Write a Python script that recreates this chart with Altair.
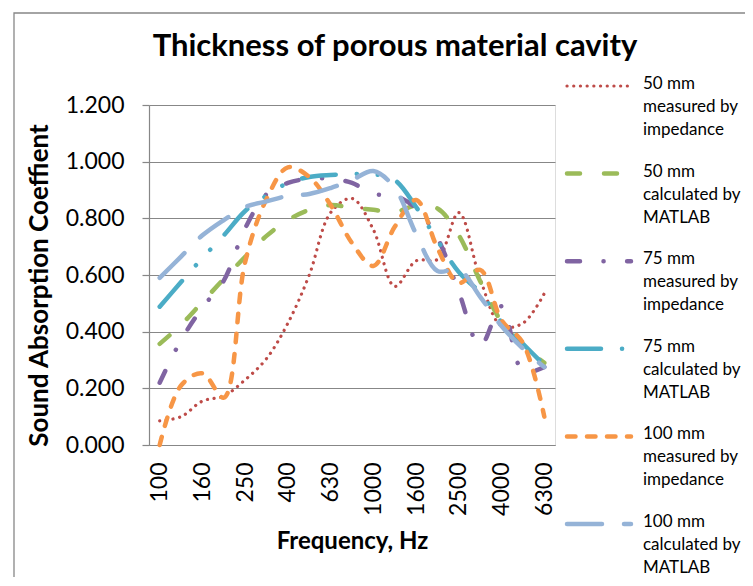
import altair as alt
import pandas as pd

freqs = ["100", "125", "160", "200", "250", "315", "400", "500", "630", "800",
         "1000", "1250", "1600", "2000", "2500", "3150", "4000", "5000", "6300"]
tick_labels = ["100", "160", "250", "400", "630", "1000", "1600", "2500", "4000", "6300"]
y_ticks = [0.0, 0.2, 0.4, 0.6, 0.8, 1.0, 1.2]
chart_title = "Thickness of porous material cavity"

series_names = [
    "50 mm measured by impedance",
    "50 mm calculated by MATLAB",
    "75 mm measured by impedance",
    "75 mm calculated by MATLAB",
    "100 mm measured by impedance",
    "100 mm calculated by MATLAB",
]
legend_labels = [
    "50 mm|measured by|impedance",
    "50 mm|calculated by|MATLAB",
    "75 mm|measured by|impedance",
    "75 mm|calculated by|MATLAB",
    "100 mm|measured by|impedance",
    "100 mm|calculated by|MATLAB",
]

mm50_measured = [0.085, 0.10, 0.155, 0.173, 0.23, 0.305, 0.43, 0.60, 0.82, 0.87,
                 0.76, 0.56, 0.65, 0.655, 0.82, 0.585, 0.42, 0.43, 0.535]
mm50_matlab = [0.357, 0.424, 0.505, 0.586, 0.664, 0.738, 0.794, 0.83, 0.847, 0.837,
               0.83, 0.822, 0.845, 0.835, 0.74, 0.578, 0.434, 0.35, 0.29]
mm75_measured = [0.22, 0.37, 0.485, 0.58, 0.765, 0.885, 0.925, 0.94, 0.94, 0.925,
                 0.886, 0.88, 0.835, 0.73, 0.54, 0.35, 0.49, 0.26, 0.275]
mm75_matlab = [0.488, 0.575, 0.66, 0.74, 0.826, 0.88, 0.925, 0.946, 0.953, 0.956,
               0.956, 0.935, 0.84, 0.722, 0.61, 0.537, 0.434, 0.357, 0.282]
mm100_measured = [0.0, 0.21, 0.253, 0.167, 0.646, 0.868, 0.98, 0.946, 0.847, 0.713,
                  0.632, 0.77, 0.865, 0.695, 0.572, 0.618, 0.44, 0.36, 0.10]
mm100_matlab = [0.59, 0.665, 0.74, 0.794, 0.84, 0.86, 0.879, 0.886, 0.907, 0.935,
                0.967, 0.907, 0.745, 0.614, 0.62, 0.523, 0.42, 0.34, 0.275]

all_values = [mm50_measured, mm50_matlab, mm75_measured, mm75_matlab,
              mm100_measured, mm100_matlab]

colors = ["#BE4B48", "#9BBB59", "#8064A2", "#4BACC6", "#F79646", "#95B3D7"]
dashes = [[0.1, 6.6], [13, 24], [13, 23.5, 0.1, 23.5],
          [34, 21, 0.1, 21, 0.1, 21], [8.5, 11.5], [35, 22]]
widths = [3.2, 4.5, 4.5, 4.5, 4.5, 4.5]

rows = []
for name, vals in zip(series_names, all_values):
    for f, v in zip(freqs, vals):
        rows.append({"Frequency": f, "Series": name, "Value": v})
df = pd.DataFrame(rows)
legend_df = pd.DataFrame({"Series": series_names, "Label": legend_labels})

FONT = "Lato"
GRAY = "#878787"

color_enc = alt.Color("Series:N", scale=alt.Scale(domain=series_names, range=colors), legend=None)
dash_enc = alt.StrokeDash("Series:N", scale=alt.Scale(type="ordinal", domain=series_names, range=dashes), legend=None)
width_enc = alt.StrokeWidth("Series:N", scale=alt.Scale(type="ordinal", domain=series_names, range=widths), legend=None)

border = alt.Chart(pd.DataFrame({"k": [0]})).mark_rect(
    fillOpacity=0, stroke=GRAY, strokeWidth=1.3
).encode(x=alt.value(-135), x2=alt.value(700), y=alt.value(-92), y2=alt.value(700))

title_mark = alt.Chart(pd.DataFrame({"t": [chart_title]})).mark_text(
    align="center", baseline="middle", font=FONT, fontSize=31, fontWeight="bold",
    color="black"
).encode(x=alt.value(246), y=alt.value(-58), text="t:N")

lines = alt.Chart(df).mark_line(
    interpolate="catmull-rom", strokeCap="round", strokeJoin="round"
).encode(
    x=alt.X("Frequency:O", sort=freqs,
            scale=alt.Scale(type="point", domain=freqs, padding=0.5),
            axis=alt.Axis(values=tick_labels, labelAngle=270, ticks=False, tickSize=0,
                          grid=False, domainColor=GRAY, domainWidth=1.2,
                          labelFont=FONT, labelFontSize=23, labelColor="black",
                          labelPadding=17, title="Frequency, Hz", titleFont=FONT,
                          titleFontSize=24, titleFontWeight="bold", titleColor="black",
                          titleY=84)),
    y=alt.Y("Value:Q", scale=alt.Scale(domain=[0, 1.2], nice=False),
            axis=alt.Axis(orient="left", values=y_ticks, format=".3f", grid=True,
                          gridColor=GRAY, gridWidth=1.2, domainColor=GRAY, domainWidth=1.2,
                          tickColor=GRAY, tickSize=7, tickWidth=1.2,
                          labelFont=FONT, labelFontSize=23, labelColor="black",
                          labelPadding=18, title="Sound Absorption Coeffient",
                          titleFont=FONT, titleFontSize=26, titleFontWeight="bold",
                          titleColor="black", titleX=-97, titleY=180)),
    color=color_enc,
    strokeDash=dash_enc,
    strokeWidth=width_enc,
)

legend_y = alt.Y("Series:N", sort=series_names,
                 scale=alt.Scale(type="point", domain=series_names, range=[-19, 419], padding=0),
                 axis=None)

legend_rules = alt.Chart(legend_df).mark_rule(strokeCap="round").encode(
    x=alt.value(418), x2=alt.value(482), y=legend_y,
    color=color_enc, strokeDash=dash_enc, strokeWidth=width_enc,
)

legend_text = alt.Chart(legend_df).mark_text(
    align="left", baseline="top", dy=-10, lineBreak="|", font=FONT,
    fontSize=17, lineHeight=23, color="black"
).encode(x=alt.value(494), y=legend_y, text="Label:N")

chart = alt.layer(border, title_mark, lines, legend_rules, legend_text).resolve_scale(
    y="independent"
).properties(
    width=406, height=340,
    autosize=alt.AutoSizeParams(type="none"),
    padding={"left": 141, "top": 97, "right": 190, "bottom": 132},
).configure_view(stroke=None).configure(background="white")

chart.save("out.html", embed_options={"renderer": "svg", "actions": False})
